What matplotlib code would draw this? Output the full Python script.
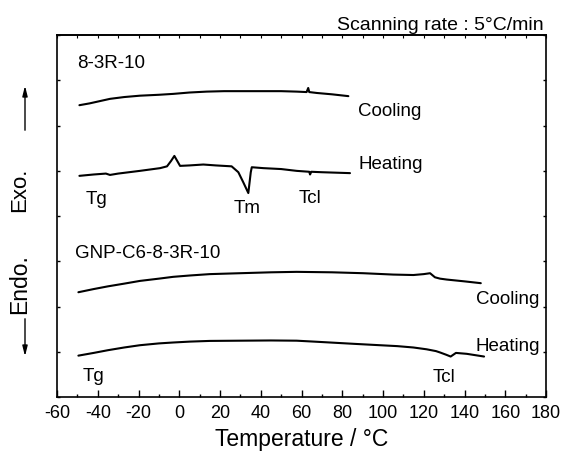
import matplotlib
matplotlib.use("Agg")
import matplotlib.pyplot as plt
from matplotlib.ticker import MultipleLocator

plt.rcParams['font.family'] = ['Liberation Sans', 'DejaVu Sans']

# ---- data (temperature in °C, signal in arbitrary units) ----
cool1_T = [-49.0, -44, -40, -34, -27, -19.3, -10, -2.9, 5, 13.5, 22, 29.8, 41.3, 50, 57.6,
           62.5, 63.3, 63.8, 67.5, 75, 83.0]
cool1_y = [6.45, 6.49, 6.53, 6.59, 6.63, 6.66, 6.68, 6.70, 6.73, 6.75, 6.76, 6.76, 6.76, 6.76, 6.75,
           6.74, 6.83, 6.74, 6.72, 6.69, 6.65]

heat1_T = [-49.0, -42, -36, -34, -30, -19.3, -9.4, -6, -4, -2.4, -1, 0.4, 5, 11.8, 18, 25.7,
           29, 31.4, 33.9, 35.1, 35.6, 41.3, 50, 57.6, 63.8, 64.2, 64.8, 70, 83.8]
heat1_y = [4.89, 4.92, 4.94, 4.91, 4.94, 5.00, 5.06, 5.10, 5.22, 5.33, 5.22, 5.11, 5.12, 5.14, 5.12, 5.10,
           4.97, 4.75, 4.51, 4.97, 5.08, 5.06, 5.04, 5.00, 4.98, 4.92, 4.98, 4.97, 4.95]

cool2_T = [-49.5, -42, -35, -27, -19.3, -10, -3, 5.3, 15, 29.8, 45, 57.6, 75, 90.3, 105, 114.9,
           120, 123.1, 125.5, 128, 131.3, 140, 148]
cool2_y = [2.32, 2.39, 2.45, 2.51, 2.57, 2.62, 2.66, 2.69, 2.72, 2.74, 2.76, 2.77, 2.76, 2.74, 2.71, 2.70,
           2.72, 2.74, 2.65, 2.62, 2.60, 2.56, 2.52]

heat2_T = [-49.5, -42, -35, -27, -19.3, -10, -3, 5.3, 15, 29.8, 45, 57.6, 66, 74, 86, 98.5, 107,
           114.9, 121.4, 126, 128, 131, 133.2, 134.5, 135.8, 141.1, 149.6]
heat2_y = [0.92, 0.98, 1.04, 1.10, 1.15, 1.19, 1.21, 1.23, 1.245, 1.25, 1.255, 1.25, 1.23, 1.21, 1.18, 1.15, 1.13,
           1.10, 1.06, 1.02, 0.99, 0.94, 0.90, 0.94, 0.98, 0.96, 0.90]

x_ticks = [-60, -40, -20, 0, 20, 40, 60, 80, 100, 120, 140, 160, 180]

labels = [  # text, T, y
    ("8-3R-10", -50.3, 7.40),
    ("Cooling", 87.9, 6.33),
    ("Heating", 87.9, 5.17),
    ("Tg", -45.8, 4.40),
    ("Tm", 26.5, 4.20),
    ("Tcl", 58.4, 4.42),
    ("GNP-C6-8-3R-10", -51.2, 3.20),
    ("Cooling", 145.6, 2.19),
    ("Heating", 145.4, 1.15),
    ("Tg", -47.4, 0.48),
    ("Tcl", 124.4, 0.46),
]

fig = plt.figure(figsize=(5.63, 4.56), dpi=100)
ax = fig.add_axes([57/563, 1 - 398.3/456, (546-57)/563, (398.3-36)/456])

for T, y in [(cool1_T, cool1_y), (heat1_T, heat1_y), (cool2_T, cool2_y), (heat2_T, heat2_y)]:
    ax.plot(T, y, color='black', lw=1.5, solid_joinstyle='round', solid_capstyle='round')

for txt, T, y in labels:
    ax.text(T, y, txt, fontsize=13.5, ha='left', va='center')

ax.set_xlim(-60, 180)
ax.set_ylim(0, 8)
ax.set_xticks(x_ticks)
ax.set_xticklabels([str(v) for v in x_ticks])
ax.xaxis.set_minor_locator(MultipleLocator(10))
ax.yaxis.set_major_locator(MultipleLocator(1))
ax.set_yticklabels([])
ax.tick_params(axis='x', which='major', direction='in', length=5, width=1, labelsize=13, top=False, pad=5)
ax.tick_params(axis='x', which='minor', direction='in', length=2.5, width=1, top=False)
ax.tick_params(axis='y', which='major', direction='in', length=2, width=1, left=True, right=True)
for s in ax.spines.values():
    s.set_linewidth(1.2)
ax.set_xlabel("Temperature / °C", fontsize=16.5, labelpad=4)

top = ax.secondary_xaxis('top')
top.xaxis.set_major_locator(MultipleLocator(10))
top.tick_params(axis='x', which='major', direction='in', length=2, width=0.8, labeltop=False)
top.spines['top'].set_linewidth(1.2)

fig.text(544/563, 1 - 25/456, "Scanning rate : 5°C/min", fontsize=14, ha='right', va='center')
fig.text(20/563, 1 - 190/456, "Exo.", fontsize=16, rotation=90, ha='center', va='center')
fig.text(20/563, 1 - 284/456, "Endo.", fontsize=16.5, rotation=90, ha='center', va='center')
ax_x = 25/563
fig.add_artist(matplotlib.patches.FancyArrowPatch((ax_x, 1 - 134/456), (ax_x, 1 - 84/456),
               transform=fig.transFigure, arrowstyle='-|>,head_length=0.6,head_width=0.15',
               mutation_scale=10, lw=1, color='black'))
fig.add_artist(matplotlib.patches.FancyArrowPatch((ax_x, 1 - 317/456), (ax_x, 1 - 360/456),
               transform=fig.transFigure, arrowstyle='-|>,head_length=0.6,head_width=0.15',
               mutation_scale=10, lw=1, color='black'))

fig.savefig("out.png", dpi=100)
